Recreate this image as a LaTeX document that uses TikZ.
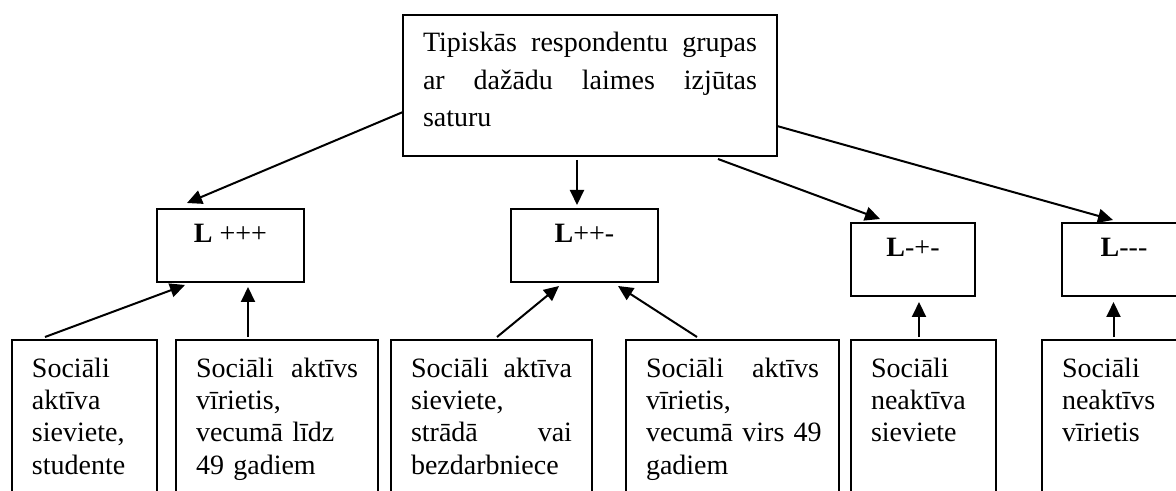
\documentclass[tikz,border=0pt]{standalone}
\usepackage{fontspec}
\setmainfont{Liberation Serif}
\usetikzlibrary{arrows.meta}

\tikzset{
	box/.style={draw, line width=1.1pt, anchor=north, outer sep=0pt},
	headbox/.style={box, text width=167pt, inner xsep=10pt, inner ysep=9pt, text height=9.5pt, text depth=43pt, align=left, font=\fontsize{14pt}{18.75pt}\selectfont},
	levelbox/.style={box, minimum width=#1, inner xsep=0pt, inner ysep=7pt, text height=10pt, text depth=12.5pt, font=\fontsize{14pt}{17pt}\selectfont},
	groupbox/.style={box, text width=#1, inner xsep=10pt, inner ysep=9pt, text height=9.5pt, text depth=80pt, align=left, font=\fontsize{14pt}{16.2pt}\selectfont},
	arr/.style={-{Triangle[length=7.5pt,width=7pt]}, line width=1pt}
}

\begin{document}
\begin{tikzpicture}[x=0.5pt,y=-0.5pt]
	\useasboundingbox (0,0) rectangle (1176,491);
	\clip (0,0) rectangle (1176,491);

	%main box
	\node[headbox] (head) at (590,15) {Tipiskās \hfill respondentu \hfill grupas\\ ar \hfill dažādu \hfill laimes \hfill izjūtas\\ saturu};

	%levels
	\node[levelbox=73.5pt] (lppp) at (230.5,209) {\textbf{L} +++};
	\node[levelbox=73.5pt] (lppm) at (584.5,209) {\textbf{L}++-};
	\node[levelbox=62pt] (lmpm) at (913,223) {\textbf{L}-+-};
	\node[levelbox=62pt] (lmmm) at (1124,223) {\textbf{L}-{}-{}-};

	%groups
	\node[groupbox=52.5pt] (fstud) at (84.5,340) {Sociāli\\ aktīva\\ sieviete,\\ studente};
	\node[groupbox=81pt] (mlt49) at (277,340) {Sociāli \hfill aktīvs\\ vīrietis,\\ vecumā līdz\\ 49 gadiem};
	\node[groupbox=80.5pt] (fwork) at (491.5,340) {Sociāli \hfill aktīva\\ sieviete,\\ strādā \hfill vai\\ bezdarbniece};
	\node[groupbox=86.5pt] (mgt49) at (732.5,340) {Sociāli \hfill aktīvs\\ vīrietis,\\ \mbox{vecumā virs 49}\\ gadiem};
	\node[groupbox=52.5pt] (fnact) at (923.5,340) {Sociāli\\ neaktīva\\ sieviete};
	\node[groupbox=52.5pt] (mnact) at (1114.5,340) {Sociāli\\ neaktīvs\\ vīrietis};

	%arrows down
	\draw[arr] ([yshift=-13.25pt]head.west) -- ([xshift=-21.75pt,yshift=3pt]lppp.north); %to L+++
	\draw[arr] ([xshift=-6.5pt,yshift=-2pt]head.south) -- ([xshift=-3.75pt,yshift=2pt]lppm.north); %to L++-
	\draw[arr] ([xshift=64pt,yshift=-1.5pt]head.south) -- ([xshift=-16.5pt,yshift=2pt]lmpm.north); %to L-+-
	\draw[arr] ([yshift=-20.25pt]head.east) -- ([xshift=-5.5pt,yshift=1.5pt]lmmm.north); %to L---

	%arrows up
	\draw[arr] ([xshift=-19.75pt,yshift=1.5pt]fstud.north) -- ([xshift=-22.75pt,yshift=-1.5pt]lppp.south);
	\draw[arr] ([xshift=-14.5pt,yshift=1.5pt]mlt49.north) -- ([xshift=8.75pt,yshift=-2.5pt]lppp.south);
	\draw[arr] ([xshift=2.75pt,yshift=1.5pt]fwork.north) -- ([xshift=-12.75pt,yshift=-2pt]lppm.south);
	\draw[arr] ([xshift=-17.75pt,yshift=1.5pt]mgt49.north) -- ([xshift=16.75pt,yshift=-2pt]lppm.south);
	\draw[arr] ([xshift=-2.25pt,yshift=1.5pt]fnact.north) -- ([xshift=3pt,yshift=-3pt]lmpm.south);
	\draw[arr] ([xshift=-0.5pt,yshift=1.5pt]mnact.north) -- ([xshift=-5.25pt,yshift=-3pt]lmmm.south);
\end{tikzpicture}
\end{document}
